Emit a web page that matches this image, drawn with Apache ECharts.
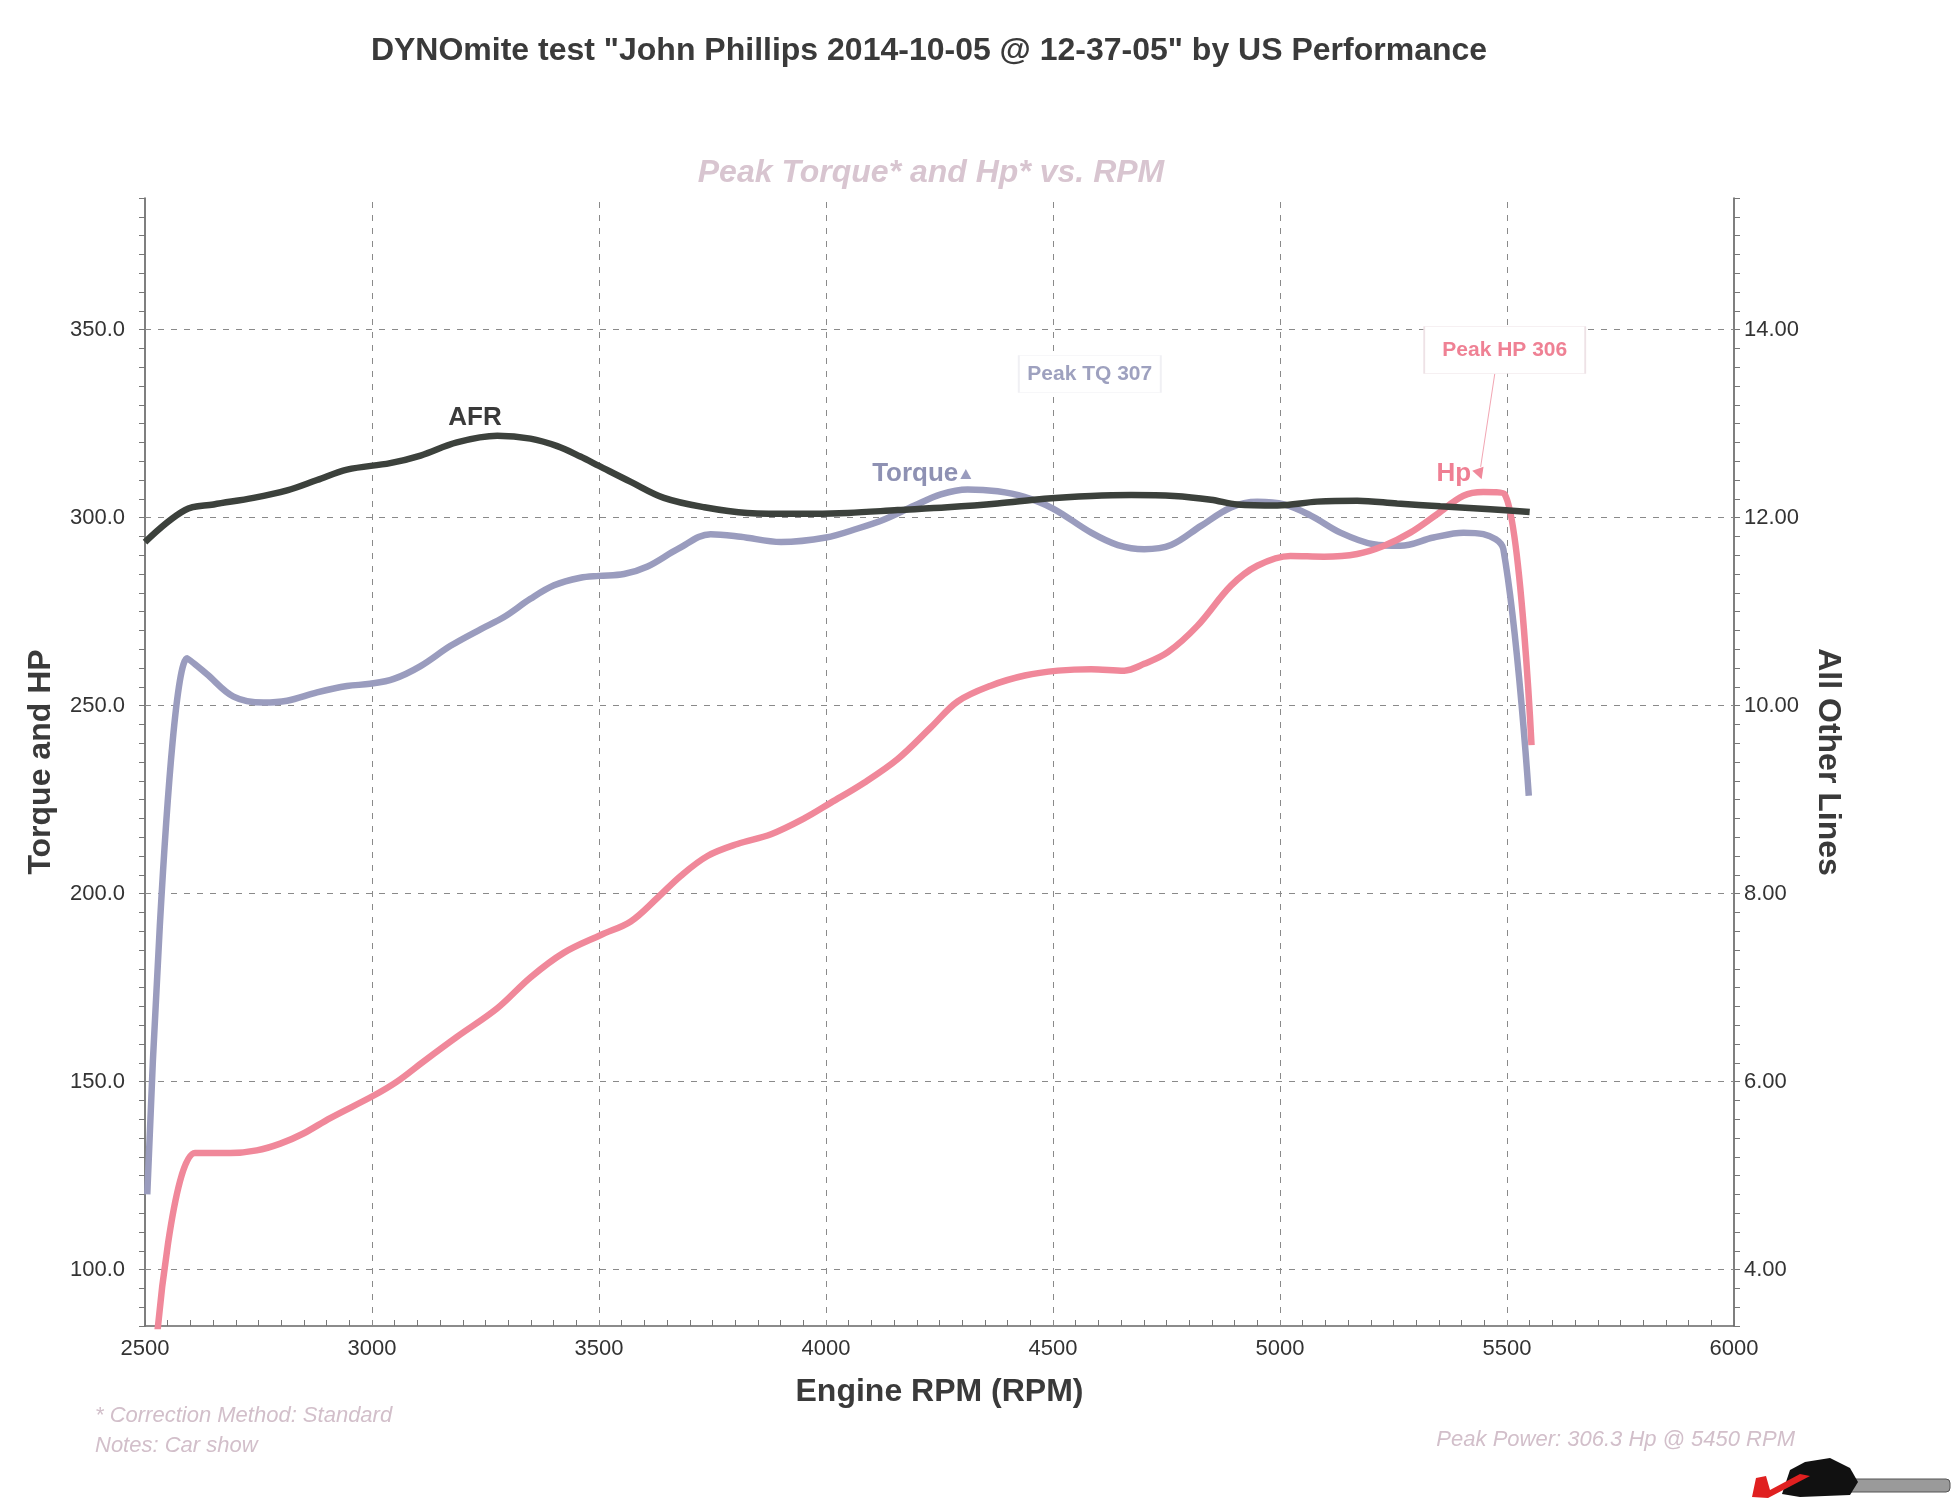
<!DOCTYPE html>
<html><head><meta charset="utf-8">
<script src="https://cdn.jsdelivr.net/npm/echarts@6/dist/echarts.min.js"></script>
<style>html,body{margin:0;padding:0;background:#fff}#c{width:1953px;height:1500px}</style>
</head><body><div id="c"></div>
<script>
// ---- data ----
const rpmTicks = [2500, 3000, 3500, 4000, 4500, 5000, 5500, 6000];
const leftTicks = [100, 150, 200, 250, 300, 350];
const rightTicks = [4, 6, 8, 10, 12, 14];

const torqueRpm = [2505,2593,2636,2695,2761,2813,2879,2945,2996,3048,3107,3173,3239,3290,3349,3401,3459,3500,3555,3607,3673,3746,3812,3901,4000,4070,4128,4195,4253,4312,4378,4437,4500,4584,4643,4701,4760,4826,4892,4950,5009,5067,5133,5206,5265,5338,5404,5448,5492,5548];
const torqueVal = [120,262.6,258.4,252.4,250.8,251.3,253.5,255.2,255.8,257.1,260.5,265.9,270.3,273.5,278.4,282.0,284.0,284.5,285.0,287.0,291.6,295.6,294.9,293.5,294.7,297.1,299.5,303.2,306.2,307.5,307.0,305.5,302.4,296.0,292.7,291.6,292.7,297.8,302.7,304.2,303.5,300.6,296.0,292.9,292.5,294.7,296.0,295.6,291.6,226.0];

const hpRpm = [2527,2610,2688,2746,2798,2849,2908,3004,3055,3114,3187,3276,3349,3423,3504,3570,3629,3680,3739,3805,3879,3952,4011,4084,4158,4231,4290,4363,4438,4511,4584,4657,4701,4753,4818,4892,4950,5023,5097,5170,5229,5287,5346,5404,5448,5495,5554];
const hpVal = [83,131,131,131.7,133.5,136.2,140.3,146.3,150,155.4,161.9,169.5,177.7,184.3,189,192.6,198.9,204.7,210,213.2,215.8,220,224.2,229.5,235.8,244.2,251.1,255.3,258,259.3,259.7,259.3,261.1,264.2,271.2,281.9,287.2,289.8,289.6,290.3,292.5,296,300.9,305.8,306.8,306.2,239.5];

const afrRpm = [2500,2588,2651,2739,2813,2879,2945,3040,3107,3187,3276,3349,3408,3459,3500,3570,3643,3732,3827,3937,4048,4158,4268,4378,4481,4584,4672,4767,4848,4906,4994,5082,5170,5258,5353,5463,5550];
const afrVal = [11.74,12.08,12.14,12.21,12.29,12.40,12.51,12.58,12.66,12.80,12.87,12.84,12.76,12.65,12.55,12.38,12.21,12.11,12.05,12.04,12.05,12.08,12.11,12.15,12.20,12.23,12.24,12.23,12.19,12.14,12.13,12.17,12.18,12.15,12.12,12.09,12.06];

const titleText = 'DYNOmite test "John Phillips 2014-10-05 @ 12-37-05" by US Performance';
const subTitleText = 'Peak Torque* and Hp* vs. RPM';
const footerLeft1 = '* Correction Method: Standard';
const footerLeft2 = 'Notes: Car show';
const footerRight = 'Peak Power: 306.3 Hp @ 5450 RPM';
const peakTqText = 'Peak TQ 307';
const peakHpText = 'Peak HP 306';

// ---- chart ----
const FONT = '"Liberation Sans", Arial, sans-serif';
const C_TQ = '#9a9cbe', C_HP = '#f0889a', C_AFR = '#3c413c';
const zip = (a, b) => a.map((x, i) => [x, b[i]]);

const chart = echarts.init(document.getElementById('c'), null, {renderer: 'canvas'});

const gridLines = [
  ...leftTicks.map(v => ({yAxis: v})),
  ...rpmTicks.filter(v => v > rpmTicks[0] && v < rpmTicks[rpmTicks.length - 1]).map(v => ({xAxis: v}))
];

const option = {
  animation: false,
  backgroundColor: '#ffffff',
  textStyle: {fontFamily: FONT},
  grid: {left: 145, right: 219, top: 198, bottom: 174, containLabel: false},
  xAxis: {
    type: 'value', min: 2500, max: 6000, interval: 50,
    name: 'Engine RPM (RPM)', nameLocation: 'middle', nameGap: 50,
    nameTextStyle: {fontSize: 32, fontWeight: 'bold', color: '#3a3a3a', fontFamily: FONT},
    axisLine: {show: true, lineStyle: {color: '#666', width: 1.5}},
    axisTick: {show: true, inside: true, length: 6, lineStyle: {color: '#777'}},
    axisLabel: {
      fontSize: 22, color: '#333', margin: 12, fontFamily: FONT,
      formatter: v => rpmTicks.includes(Math.round(v)) ? String(Math.round(v)) : ''
    },
    splitLine: {show: false}
  },
  yAxis: [{
    type: 'value', min: 85, max: 385, interval: 5, position: 'left',
    name: 'Torque and HP', nameLocation: 'middle', nameGap: 88, nameRotate: 90,
    nameTextStyle: {fontSize: 32, fontWeight: 'bold', color: '#3a3a3a', fontFamily: FONT},
    axisLine: {show: true, lineStyle: {color: '#555', width: 1.5}},
    axisTick: {show: true, inside: false, length: 6, lineStyle: {color: '#777'}},
    axisLabel: {
      fontSize: 22, color: '#333', margin: 20, fontFamily: FONT,
      formatter: v => leftTicks.includes(Math.round(v)) ? Math.round(v).toFixed(1) : ''
    },
    splitLine: {show: false}
  }, {
    type: 'value', min: 3.4, max: 15.4, interval: 0.2, position: 'right',
    name: 'All Other Lines', nameLocation: 'middle', nameGap: 78, nameRotate: -90,
    nameTextStyle: {fontSize: 32, fontWeight: 'bold', color: '#3a3a3a', fontFamily: FONT},
    axisLine: {show: true, lineStyle: {color: '#555', width: 1.5}},
    axisTick: {show: true, inside: false, length: 6, lineStyle: {color: '#777'}},
    axisLabel: {
      fontSize: 22, color: '#333', margin: 10, fontFamily: FONT,
      formatter: v => {
        const r = Math.round(v * 10) / 10;
        return rightTicks.some(t => Math.abs(t - r) < 1e-6) ? r.toFixed(2) : '';
      }
    },
    splitLine: {show: false}
  }],
  series: [{
    name: 'Torque', type: 'line', yAxisIndex: 0, z: 3,
    data: zip(torqueRpm, torqueVal),
    showSymbol: false, symbol: 'none', smooth: 0.35,
    lineStyle: {color: C_TQ, width: 6.5},
    markLine: {
      silent: true, symbol: 'none', z: 1,
      label: {show: false},
      lineStyle: {color: '#8a8a8a', type: [6, 7], width: 1},
      emphasis: {disabled: true},
      data: gridLines
    },
    markPoint: {
      silent: true,
      data: [{
        coord: [4308, 311.6], symbol: 'triangle', symbolSize: [11, 10],
        itemStyle: {color: C_TQ},
        label: {show: true, formatter: 'Torque', position: 'left', distance: 2,
          fontSize: 26, fontWeight: 'bold', color: '#8e91b3', fontFamily: FONT}
      }, {
        coord: [4581, 338.2], symbol: 'rect', symbolSize: [142, 37],
        itemStyle: {color: '#ffffff', borderColor: '#f0f0f4', borderWidth: 1},
        label: {show: true, formatter: peakTqText, position: 'inside',
          fontSize: 21, fontWeight: 'bold', color: '#9ea1bf', fontFamily: FONT}
      }]
    }
  }, {
    name: 'Hp', type: 'line', yAxisIndex: 0, z: 4,
    data: zip(hpRpm, hpVal),
    showSymbol: false, symbol: 'none', smooth: 0.35,
    lineStyle: {color: C_HP, width: 6.5},
    markLine: {
      silent: true, symbol: ['none', 'none'],
      label: {show: false},
      lineStyle: {color: '#f2a6b3', type: 'solid', width: 1},
      data: [[{coord: [5473, 338.2]}, {coord: [5442, 313.5]}]]
    },
    markPoint: {
      silent: true,
      data: [{
        coord: [5440, 311.6], symbol: 'triangle', symbolSize: [12, 11], symbolRotate: 200,
        itemStyle: {color: C_HP},
        label: {show: true, formatter: 'Hp', position: 'left', distance: 1,
          fontSize: 26, fontWeight: 'bold', color: '#ef7f93', fontFamily: FONT}
      }, {
        coord: [5495, 344.6], symbol: 'rect', symbolSize: [161, 47],
        itemStyle: {color: '#ffffff', borderColor: '#eee2e6', borderWidth: 1},
        label: {show: true, formatter: peakHpText, position: 'inside',
          fontSize: 21, fontWeight: 'bold', color: '#ef8194', fontFamily: FONT}
      }]
    }
  }, {
    name: 'AFR', type: 'line', yAxisIndex: 1, z: 5,
    data: zip(afrRpm, afrVal),
    showSymbol: false, symbol: 'none', smooth: 0.35,
    lineStyle: {color: C_AFR, width: 6.5},
    markPoint: {
      silent: true,
      data: [{
        coord: [3227, 13.06], symbol: 'circle', symbolSize: 1,
        itemStyle: {color: 'rgba(0,0,0,0)'},
        label: {show: true, formatter: 'AFR', position: 'inside',
          fontSize: 26, fontWeight: 'bold', color: '#3a3a3a', fontFamily: FONT}
      }]
    }
  }],
  graphic: [
    {type: 'text', x: 929, y: 51, silent: true,
      style: {text: titleText, fill: '#3a3a3a', fontSize: 32, fontWeight: 'bold', fontFamily: FONT, align: 'center', verticalAlign: 'middle'}},
    {type: 'text', x: 931, y: 173, silent: true,
      style: {text: subTitleText, fill: '#d8c5d0', fontSize: 32, fontWeight: 'bold', fontStyle: 'italic', fontFamily: FONT, align: 'center', verticalAlign: 'middle'}},
    {type: 'text', x: 95, y: 1416, silent: true,
      style: {text: footerLeft1, fill: '#d2bfca', fontSize: 22, fontStyle: 'italic', fontFamily: FONT, align: 'left', verticalAlign: 'middle'}},
    {type: 'text', x: 95, y: 1446, silent: true,
      style: {text: footerLeft2, fill: '#d2bfca', fontSize: 22, fontStyle: 'italic', fontFamily: FONT, align: 'left', verticalAlign: 'middle'}},
    {type: 'text', x: 1795, y: 1440, silent: true,
      style: {text: footerRight, fill: '#d2bfca', fontSize: 22, fontStyle: 'italic', fontFamily: FONT, align: 'right', verticalAlign: 'middle'}},
    // small logo at bottom right
    {type: 'rect', silent: true, shape: {x: 1800, y: 1479, width: 150, height: 13, r: 4},
      style: {fill: '#9a9a9a', stroke: '#555', lineWidth: 1}},
    {type: 'polygon', silent: true,
      shape: {points: [[1782, 1494], [1790, 1470], [1805, 1462], [1830, 1458], [1850, 1468], [1858, 1482], [1850, 1495], [1800, 1497]]},
      style: {fill: '#111'}},
    {type: 'polygon', silent: true,
      shape: {points: [[1756, 1478], [1766, 1476], [1770, 1490], [1800, 1474], [1810, 1476], [1768, 1498], [1752, 1497]]},
      style: {fill: '#e02020'}}
  ]
};
chart.setOption(option);
</script>
</body></html>
